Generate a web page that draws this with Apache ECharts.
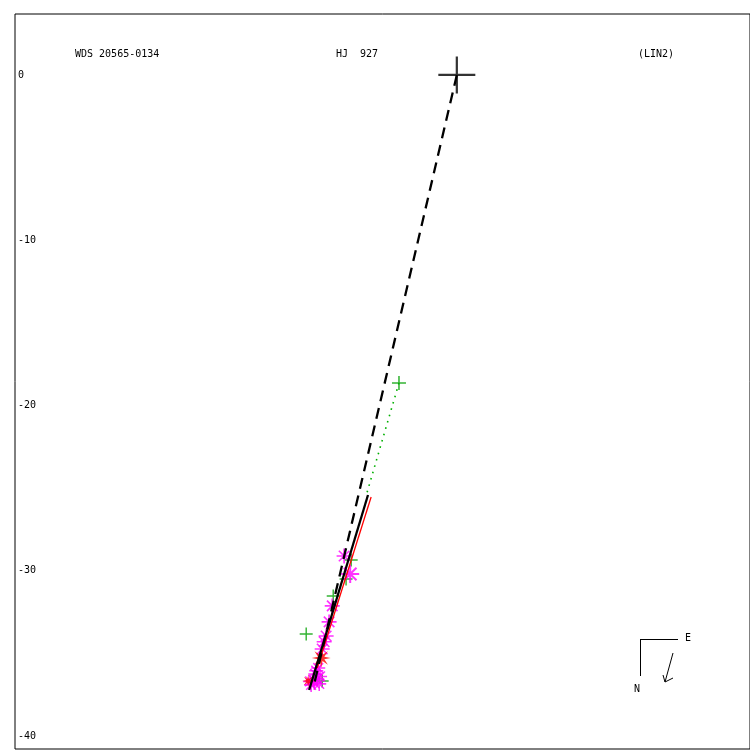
<!DOCTYPE html>
<html><head><meta charset="utf-8">
<script src="https://cdn.jsdelivr.net/npm/echarts@6/dist/echarts.min.js"></script>
<style>html,body{margin:0;padding:0;background:#fff}#c{width:750px;height:750px}</style>
</head><body><div id="c"></div>
<script>
// ---- data (plot units) ----
const tickLabels = [0, -10, -20, -30, -40];
const primary = [[0, 0]];
const nodeLine = [[0, 0], [-8.71, -37.10]];
const orbitTrack = [[-5.39, -25.42], [-8.96, -37.22]];
const redLine = [[-5.20, -25.54], [-8.47, -35.89]];
const ocLine = [[-3.51, -18.64], [-5.51, -25.48]];
const greenPlusBig = [[-3.51, -18.64]];
const greenPlus = [[-9.14, -33.83], [-7.50, -31.53], [-6.41, -29.35], [-6.72, -30.50], [-8.17, -36.67]];
const magentaStars = [[-6.84, -29.11], [-7.56, -32.13], [-7.75, -33.10], [-7.93, -33.95], [-8.17, -34.74],
  [-8.05, -34.30]];
const magentaCluster = [[-8.41, -35.89], [-8.59, -36.25], [-8.71, -36.61], [-8.47, -36.55], [-8.84, -36.91],
  [-8.35, -36.85], [-8.53, -36.05], [-8.65, -36.80], [-8.30, -36.40], [-8.90, -36.70]];
const magentaStarsBig = [[-6.47, -30.20]];
const redStars = [[-8.23, -35.28]];
const redStarsSmall = [[-9.02, -36.67]];
const titleLeft = 'WDS 20565-0134';
const titleMid = 'HJ  927';
const titleRight = '(LIN2)';

// ---- symbols ----
function plusPath(h) { const a = 10 - h, b = 10 + h;
  return `path://M0,${a}L20,${a}L20,${b}L0,${b}Z M${a},0L${b},0L${b},20L${a},20Z`; }
function asteriskPath(h) { const a = 10 - h, b = 10 + h, d = h * 0.7071;
  return `path://M0,${a}L20,${a}L20,${b}L0,${b}Z M${a},0L${b},0L${b},20L${a},20Z ` +
    `M${3 - d},${3 + d}L${3 + d},${3 - d}L${17 + d},${17 - d}L${17 - d},${17 + d}Z ` +
    `M${17 - d},${3 - d}L${17 + d},${3 + d}L${3 + d},${17 + d}L${3 - d},${17 - d}Z`; }
function spikyStar(n, r1, r2) { let p = 'path://';
  for (let i = 0; i < 2 * n; i++) { const ang = Math.PI * i / n - Math.PI / 2; const r = i % 2 ? r2 : r1;
    p += (i ? 'L' : 'M') + (10 + r * Math.cos(ang)).toFixed(2) + ',' + (10 + r * Math.sin(ang)).toFixed(2); }
  return p + 'Z'; }
const redStarPath = spikyStar(8, 10, 3.6);
const asterisk = asteriskPath(1.1);
const font = { fontFamily: 'DejaVu Sans Mono', fontSize: 10, fill: '#000' };

const chart = echarts.init(document.getElementById('c'), null, { renderer: 'canvas' });
chart.setOption({
  animation: false,
  backgroundColor: '#fff',
  grid: { left: 15, top: 14, width: 737, height: 735, show: true, borderColor: '#000', borderWidth: 1, backgroundColor: 'transparent' },
  xAxis: { type: 'value', min: -26.81, max: 17.79, show: false },
  yAxis: { type: 'value', min: -40.79, max: 3.69,
    axisLine: { show: false }, axisTick: { show: false }, splitLine: { show: false },
    axisLabel: { inside: true, margin: 3, customValues: tickLabels, color: '#000',
      fontFamily: 'DejaVu Sans Mono', fontSize: 10 } },
  series: [
    { type: 'scatter', data: greenPlus, symbol: plusPath(1.1), symbolSize: 13, itemStyle: { color: '#00a000' }, z: 2 },
    { type: 'scatter', data: greenPlusBig, symbol: plusPath(1.1), symbolSize: 14, itemStyle: { color: '#00a000' }, z: 2 },
    { type: 'scatter', data: magentaStars, symbol: asterisk, symbolSize: 15, itemStyle: { color: '#ff00ff' }, z: 3 },
    { type: 'scatter', data: magentaCluster, symbol: asterisk, symbolSize: 14, itemStyle: { color: '#ff00ff' }, z: 3 },
    { type: 'scatter', data: magentaStarsBig, symbol: asterisk, symbolSize: 18, itemStyle: { color: '#ff00ff' }, z: 3 },
    { type: 'scatter', data: redStars, symbol: redStarPath, symbolSize: 19, itemStyle: { color: '#ff0000' }, z: 4 },
    { type: 'scatter', data: redStarsSmall, symbol: redStarPath, symbolSize: 12, itemStyle: { color: '#ff0000' }, z: 4 },
    { type: 'line', data: ocLine, showSymbol: false, lineStyle: { color: '#00b000', width: 1.6, type: [1.6, 5] }, z: 5 },
    { type: 'line', data: redLine, showSymbol: false, lineStyle: { color: '#ff0000', width: 1.3 }, z: 5 },
    { type: 'line', data: nodeLine, showSymbol: false, lineStyle: { color: '#000', width: 2.3, type: [11, 7] }, z: 6 },
    { type: 'line', data: orbitTrack, showSymbol: false, lineStyle: { color: '#000', width: 2.3 }, z: 6 },
    { type: 'scatter', data: primary, symbol: plusPath(0.6), symbolSize: 37, itemStyle: { color: '#000' }, z: 7 }
  ],
  graphic: [
    { type: 'text', left: 75, top: 49, style: Object.assign({ text: titleLeft }, font) },
    { type: 'text', left: 336, top: 49, style: Object.assign({ text: titleMid }, font) },
    { type: 'text', left: 638, top: 49, style: Object.assign({ text: titleRight }, font) },
    { type: 'line', shape: { x1: 640, y1: 639.5, x2: 678, y2: 639.5 }, style: { stroke: '#000', lineWidth: 1 } },
    { type: 'line', shape: { x1: 640.5, y1: 639, x2: 640.5, y2: 676 }, style: { stroke: '#000', lineWidth: 1 } },
    { type: 'line', shape: { x1: 673, y1: 653, x2: 665, y2: 682 }, style: { stroke: '#000', lineWidth: 1 } },
    { type: 'line', shape: { x1: 665, y1: 682, x2: 663, y2: 675 }, style: { stroke: '#000', lineWidth: 1 } },
    { type: 'line', shape: { x1: 665, y1: 682, x2: 673, y2: 678 }, style: { stroke: '#000', lineWidth: 1 } },
    { type: 'text', left: 685, top: 633, style: Object.assign({ text: 'E' }, font) },
    { type: 'text', left: 634, top: 684, style: Object.assign({ text: 'N' }, font) }
  ]
});
</script></body></html>
